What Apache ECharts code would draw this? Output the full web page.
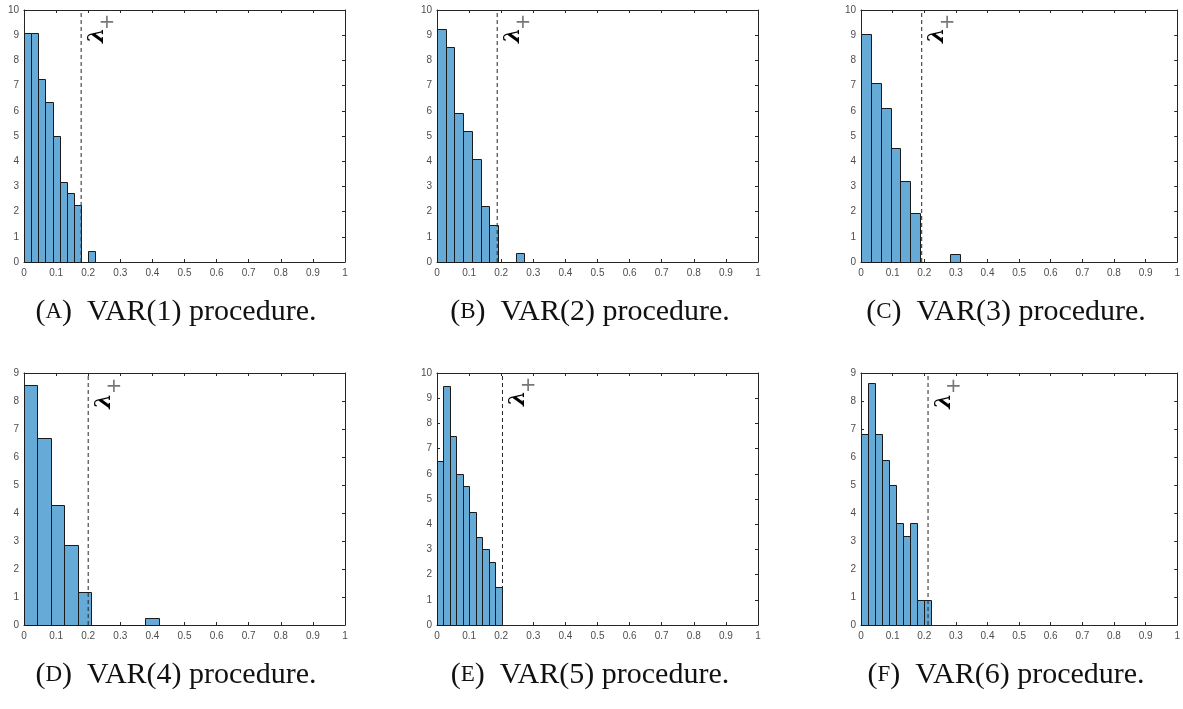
<!DOCTYPE html>
<html><head><meta charset="utf-8">
<script src="https://cdn.jsdelivr.net/npm/echarts@6/dist/echarts.min.js"></script>
<style>html,body{margin:0;padding:0;background:#fff;}#c{width:1183px;height:709px;}</style>
</head><body><div id="c"></div>
<script>
// ---- data ----
const panelLetters = ['A', 'B', 'C', 'D', 'E', 'F'];
const panelLags = ['1', '2', '3', '4', '5', '6'];
const xTickLabels = ['0', '0.1', '0.2', '0.3', '0.4', '0.5', '0.6', '0.7', '0.8', '0.9', '1'];
const binWidths = [0.0222, 0.0272, 0.0312, 0.042, 0.0202, 0.0222];
const densA = [9.09, 9.09, 7.27, 6.36, 5.0, 3.18, 2.73, 2.27, 0, 0.45];
const densB = [9.26, 8.52, 5.93, 5.19, 4.07, 2.22, 1.48, 0, 0, 0.37];
const densC = [9.03, 7.10, 6.13, 4.52, 3.23, 1.94, 0, 0, 0, 0.32];
const densD = [8.57, 6.67, 4.29, 2.86, 1.19, 0, 0, 0, 0, 0.24];
const densE = [6.5, 9.5, 7.5, 6.0, 5.5, 4.5, 3.5, 3.0, 2.5, 1.5];
const densF = [6.82, 8.64, 6.82, 5.91, 5.0, 3.64, 3.18, 3.64, 0.91, 0.91];
const lambdaPlus = [0.178, 0.1875, 0.192, 0.2, 0.204, 0.212];
const yMax = [10, 10, 10, 9, 10, 9];
const densities = [densA, densB, densC, densD, densE, densF];

// ---- layout ----
const colLeft = [24, 437, 861];
const rowTop = [10, 373];
const plotW = 321, plotH = 252;
const capX = [176, 590, 1006];
const capY = [312, 675];

const grids = [], xAxes = [], yAxes = [], series = [], graphics = [];
const axisCol = '#262626';
const labCol = '#4d4d4d';

densities.forEach((dens, i) => {
  const col = i % 3, row = Math.floor(i / 3);
  grids.push({left: colLeft[col], top: rowTop[row], width: plotW, height: plotH, containLabel: false});
  const common = {
    min: 0, axisLine: {show: true, onZero: false, lineStyle: {color: axisCol, width: 1}},
    axisTick: {show: true, inside: true, length: 3, lineStyle: {color: axisCol}},
    splitLine: {show: false}, gridIndex: i
  };
  xAxes.push(Object.assign({}, common, {
    type: 'value', position: 'bottom', max: 1, interval: 0.1,
    axisLabel: {show: true, color: labCol, fontSize: 10, fontFamily: 'Liberation Sans', margin: 6,
      showMinLabel: true, showMaxLabel: true,
      formatter: v => xTickLabels[Math.round(v * 10)]}
  }));
  xAxes.push(Object.assign({}, common, {
    type: 'value', position: 'top', max: 1, interval: 0.1, axisLabel: {show: false}
  }));
  yAxes.push(Object.assign({}, common, {
    type: 'value', position: 'left', max: yMax[i], interval: 1,
    axisLabel: {show: true, color: labCol, fontSize: 10, fontFamily: 'Liberation Sans', margin: 5,
      showMinLabel: true, showMaxLabel: true}
  }));
  yAxes.push(Object.assign({}, common, {
    type: 'value', position: 'right', max: yMax[i], interval: 1, axisLabel: {show: false}
  }));
  const w = binWidths[i];
  const bars = dens.map((h, k) => [k * w, (k + 1) * w, h]);
  series.push({
    type: 'custom', xAxisIndex: 2 * i, yAxisIndex: 2 * i, data: bars, silent: true,
    encode: {x: [0, 1], y: 2},
    renderItem: (params, api) => {
      const p0 = api.coord([api.value(0), api.value(2)]);
      const p1 = api.coord([api.value(1), 0]);
      const x0 = Math.round(p0[0]) + 0.5, x1 = Math.round(p1[0]) + 0.5;
      const y0 = Math.round(p0[1]) + 0.5, y1 = Math.round(p1[1]) + 0.5;
      return {type: 'rect', shape: {x: x0, y: y0, width: x1 - x0, height: y1 - y0},
        style: {fill: '#66aad7', stroke: '#1a1a1a', lineWidth: 1}};
    }
  });
  series.push({
    type: 'line', xAxisIndex: 2 * i, yAxisIndex: 2 * i, silent: true,
    data: [[lambdaPlus[i], 0], [lambdaPlus[i], yMax[i]]],
    symbol: 'none', lineStyle: {color: '#262626', width: 1, type: [4, 3]}, z: 5
  });
  series.push({
    type: 'scatter', xAxisIndex: 2 * i, yAxisIndex: 2 * i, silent: true,
    symbolSize: 2, itemStyle: {color: 'rgba(0,0,0,0)'},
    data: [{value: [lambdaPlus[i] + 0.05, yMax[i] - 1.0], label: {formatter: 'λ', fontSize: 22,
             fontFamily: 'DejaVu Serif', fontStyle: 'italic', fontWeight: 'bold', rotate: 90,
             color: '#000', textBorderWidth: 0, opacity: 1}},
           {value: [lambdaPlus[i] + 0.08, yMax[i] - 0.5], label: {formatter: '+', fontSize: 20,
             fontFamily: 'DejaVu Sans', color: '#555', textBorderWidth: 0}}],
    label: {show: true, position: 'inside'}, z: 6
  });
  graphics.push({
    type: 'text', x: capX[col], y: capY[row], silent: true,
    style: {
      text: '{n|(}{s|' + panelLetters[i] + '}{n|)  VAR(' + panelLags[i] + ') procedure.}',
      align: 'center', verticalAlign: 'middle',
      rich: {
        n: {fontSize: 30, fontFamily: 'Liberation Serif', fill: '#111'},
        s: {fontSize: 23, fontFamily: 'Liberation Serif', fill: '#111'}
      }
    }
  });
});

const chart = echarts.init(document.getElementById('c'), null, {renderer: 'canvas'});
chart.setOption({
  animation: false, backgroundColor: '#fff',
  grid: grids, xAxis: xAxes, yAxis: yAxes, series: series, graphic: graphics
});
</script></body></html>
